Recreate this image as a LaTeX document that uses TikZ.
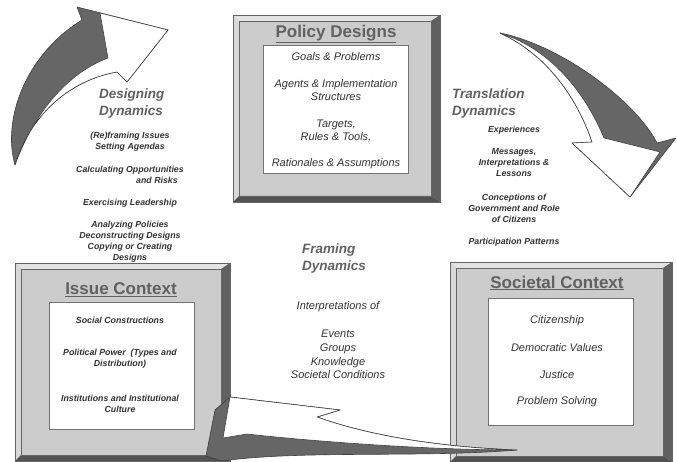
\documentclass[tikz,border=0pt]{standalone}
\usepackage{fontspec}
\setmainfont{Liberation Sans}
\colorlet{facegray}{gray!40}
\colorlet{lightbevel}{gray!22}
\colorlet{sidebevel}{gray!30}
\colorlet{darkbevel}{black!62}
\colorlet{arrowgray}{black!60}
\colorlet{inkgray}{black!80}
\colorlet{headgray}{black!62}
\tikzset{
  boxitem/.style = {font=\fontsize{11}{13.5}\selectfont\itshape, text=inkgray, align=center, inner sep=0pt},
  dynitem/.style = {font=\fontsize{8.8}{11}\selectfont\bfseries\itshape, text=inkgray, align=center, inner sep=0pt},
  dynhead/.style = {font=\fontsize{13.5}{17}\selectfont\bfseries\itshape, text=headgray, align=left, anchor=west, inner sep=0pt},
  boxtitle/.style = {font=\fontsize{17}{20}\selectfont\bfseries, text=headgray, inner sep=0pt},
  inbox/.style = {draw=black!55, fill=white, line width=0.6pt, inner sep=0pt},
  arrowface/.style = {fill=white, draw=black!75, line width=0.6pt, line join=round},
  arrowside/.style = {fill=arrowgray, draw=black!75, line width=0.6pt, line join=round}
}

\begin{document}
\begin{tikzpicture}[x=1pt,y=-1pt]
  \useasboundingbox (0,0) rectangle (677,462);
  \clip (0,0) rectangle (677,462);
  % bevelled boxes
  \foreach \nm/\xa/\ya/\xb/\yb in {policy/233/15/440/202, issue/15/263/230/461, societal/450/262/672/462} {
    \fill[facegray] (\xa,\ya) rectangle (\xb,\yb);
    \fill[lightbevel] (\xa,\ya) -- (\xb,\ya) -- (\xb-9,\ya+6) -- (\xa+6,\ya+6) -- cycle;
    \fill[sidebevel] (\xa,\ya) -- (\xa+6,\ya+6) -- (\xa+6,\yb-6) -- (\xa,\yb) -- cycle;
    \fill[darkbevel] (\xb,\ya) -- (\xb,\yb) -- (\xb-9,\yb-6) -- (\xb-9,\ya+6) -- cycle;
    \fill[darkbevel!85!black] (\xa,\yb) -- (\xb,\yb) -- (\xb-9,\yb-6) -- (\xa+6,\yb-6) -- cycle;
    \draw[black!60, line width=0.5pt] (\xa,\ya) rectangle (\xb,\yb) (\xa+6,\ya+6) rectangle (\xb-9,\yb-6);
    \coordinate (\nm) at ({(\xa+\xb)/2},{(\ya+\yb)/2});
  }
  \node[inbox, minimum width=145, minimum height=128] (policyin) at (335.5,109) {};
  \node[inbox, minimum width=145, minimum height=127] (issuein) at (121.5,365.5) {};
  \node[inbox, minimum width=145, minimum height=127] (societalin) at (560.5,361.5) {};
  \node[boxtitle] (policyttl) at (336,34) {\underline{Policy Designs}};
  \node[boxtitle] (issuettl) at (121,290) {\underline{Issue Context}};
  \node[boxtitle] (societalttl) at (557,283) {\underline{Societal Context}};
  % box contents
  \foreach \txt/\yy [count=\i] in {Goals \& Problems/57, Agents \& Implementation\\Structures/90, {Targets,\\Rules \& Tools,}/131, Rationales \& Assumptions/164}
    \node[boxitem] (pol\i) at (336,\yy) {\txt};
  \foreach \txt/\yy [count=\i] in {Social Constructions/320, Political Power~ (Types and\\Distribution)/359, Institutions and Institutional\\Culture/404}
    \node[dynitem] (iss\i) at (120,\yy) {\txt};
  \foreach \txt/\yy [count=\i] in {Citizenship/321, Democratic Values/348, Justice/375, Problem Solving/402}
    \node[boxitem] (soc\i) at (557,\yy) {\txt};
  % designing dynamics
  \node[dynhead] (desttl) at (99,104) {Designing\\Dynamics};
  \foreach \txt/\yy [count=\i] in {(Re)framing Issues\\Setting Agendas/142, Calculating Opportunities\\\hspace*{54pt}and Risks/175, Exercising Leadership/203, Analyzing Policies\\Deconstructing Designs\\Copying or Creating\\Designs/242}
    \node[dynitem] (des\i) at (130,\yy) {\txt};
  % translation dynamics
  \node[dynhead] (trattl) at (452,104) {Translation\\Dynamics};
  \foreach \txt/\yy [count=\i] in {Experiences/130, {Messages,\\Interpretations \&\\Lessons}/163, Conceptions of\\Government and Role\\of Citizens/208, Participation Patterns/242}
    \node[dynitem] (tra\i) at (514,\yy) {\txt};
  % framing dynamics
  \node[dynhead] (frattl) at (302,259) {Framing\\Dynamics};
  \node[boxitem] (fra1) at (338,307) {Interpretations of};
  \node[boxitem, font=\fontsize{11}{13.7}\selectfont\itshape] (fra2) at (338,354.5) {Events\\Groups\\Knowledge\\Societal Conditions};
  % designing arrow
  \draw[arrowside] (15,165) .. controls (2,120) and (25,55) .. (82,20) -- (77,7) -- (168,30) -- (127,82) -- (117,72)
    .. controls (70,80) and (30,115) .. (15,165) -- cycle;
  \draw[arrowface] (100,13) -- (168,30) -- (127,82) -- (117,72) .. controls (70,80) and (30,115) .. (15,165)
    .. controls (35,110) and (70,72) .. (108,58) -- cycle;
  % translation arrow
  \draw[arrowside] (500,33) .. controls (560,45) and (635,100) .. (657,143) -- (676,138) -- (630,197) -- (572,143) -- (592,142)
    .. controls (578,100) and (548,55) .. (500,33) -- cycle;
  \draw[arrowface] (500,33) .. controls (548,55) and (578,100) .. (592,142) -- (572,143) -- (630,197) -- (660,152) -- (604,138)
    .. controls (586,95) and (553,50) .. (500,33) -- cycle;
  % framing arrow
  \draw[arrowside] (230,397) -- (340,410) -- (317,417) .. controls (370,436) and (440,447) .. (517,450)
    .. controls (420,458) and (300,450) .. (222,461) -- (206,456) -- (215,410) -- cycle;
  \draw[arrowface] (230,397) -- (340,410) -- (317,417) .. controls (370,436) and (440,447) .. (517,450)
    .. controls (420,450) and (300,440) .. (247,434) -- (223,438) -- cycle;
\end{tikzpicture}
\end{document}
